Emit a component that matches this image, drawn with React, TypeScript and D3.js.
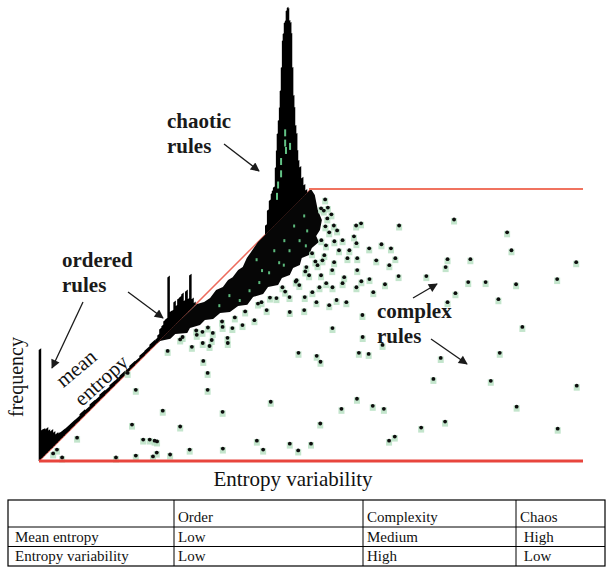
import React, { useEffect, useRef } from 'react';
import * as d3 from 'd3';

// histogram along the mean entropy axis (bin start, frequency)
const histMeanEntropy = [
  0.0, 0.007, 0.015, 0.022, 0.033, 0.04, 0.051, 0.059, 0.07, 0.077, 0.088, 0.095, 0.114, 0.132, 0.15,
  0.168, 0.187, 0.205, 0.223, 0.242, 0.26, 0.278, 0.297, 0.315, 0.333, 0.352, 0.37, 0.388, 0.407, 0.425,
  0.429, 0.436, 0.443, 0.451, 0.458, 0.465, 0.473, 0.48, 0.487, 0.495, 0.502, 0.509, 0.516, 0.524, 0.531,
  0.538, 0.546, 0.553, 0.56, 0.568, 0.575,
  0.832, 0.839, 0.846, 0.853, 0.857, 0.861, 0.868, 0.872, 0.875, 0.879, 0.883, 0.886, 0.89, 0.894, 0.897,
  0.901, 0.905, 0.908, 0.912, 0.916, 0.919, 0.923, 0.927, 0.93, 0.934, 0.938, 0.941, 0.945, 0.949, 0.952,
  0.956, 0.963, 0.971, 0.978, 0.985,
];
const histFrequency = [
  0.541, 0.137, 0.132, 0.122, 0.102, 0.088, 0.068, 0.049, 0.039, 0.034, 0.032, 0.029, 0.027, 0.024, 0.029,
  0.022, 0.027, 0.022, 0.027, 0.02, 0.024, 0.02, 0.022, 0.017, 0.022, 0.017, 0.022, 0.022, 0.027, 0.022,
  0.024, 0.034, 0.054, 0.059, 0.073, 0.073, 0.268, 0.088, 0.083, 0.117, 0.088, 0.112, 0.112, 0.117, 0.073,
  0.112, 0.063, 0.171, 0.044, 0.015, 0,
  0.044, 0.107, 0.146, 0.171, 0.18, 0.19, 0.278, 0.356, 0.434, 0.493, 0.551, 0.629, 0.737, 0.863, 0.893,
  0.941, 0.946, 0.99, 1.0, 0.99, 0.927, 0.912, 0.854, 0.683, 0.541, 0.478, 0.385, 0.341, 0.254, 0.2,
  0.161, 0.098, 0.054, 0.02, 0,
];

// outline of the dense cloud of chaotic / ordered rules: [entropy variability, mean entropy]
const denseCloud = [
  [0, 0.827], [0, 0.915], [0, 1.0], [0.018, 0.978], [0.051, 0.923], [0.077, 0.886], [0.092, 0.849],
  [0.096, 0.827], [0.112, 0.805], [0.11, 0.783], [0.118, 0.757], [0.11, 0.746], [0.119, 0.721],
  [0.112, 0.71], [0.119, 0.684], [0.11, 0.673], [0.116, 0.647], [0.101, 0.64], [0.105, 0.614],
  [0.092, 0.603], [0.096, 0.574], [0.081, 0.57], [0.077, 0.548], [0.061, 0.544], [0.059, 0.522],
  [0.046, 0.518], [0.046, 0.5], [0.033, 0.489], [0.037, 0.471], [0.017, 0.467], [0.017, 0.449],
  [0.002, 0.441], [0, 0.426], [0, 0.496], [0.002, 0.577], [0.011, 0.585], [0.015, 0.599],
  [0.011, 0.629], [0.018, 0.64], [0.015, 0.665], [0.018, 0.676], [0.015, 0.702], [0.018, 0.713],
  [0.009, 0.746], [0.006, 0.765], [0, 0.805],
];
const cloudSpeckles = [
  [0.037, 0.864], [0.037, 0.901], [0.074, 0.81], [0.074, 0.773], [0.077, 0.729], [0.077, 0.692],
  [0.077, 0.656], [0.074, 0.626], [0.074, 0.59], [0.046, 0.81], [0.07, 0.846], [0.046, 0.773],
  [0.095, 0.791], [0.046, 0.571], [0.046, 0.608], [0.06, 0.7], [0.03, 0.74], [0.09, 0.72],
];
// green marks inside the chaotic peak: [mean entropy, frequency]
const peakMarks = [
  [0.905, 0.4], [0.905, 0.35], [0.908, 0.31], [0.923, 0.31], [0.89, 0.28], [0.89, 0.22], [0.879, 0.18],
  [0.875, 0.13],
];

// individual rules: [entropy variability, mean entropy]
const nearChaosRules = [
  [0.232, 0.795], [0.257, 0.78], [0.217, 0.78], [0.156, 0.872], [0.151, 0.864], [0.167, 0.824],
  [0.153, 0.81], [0.165, 0.773], [0.195, 0.744], [0.213, 0.744], [0.252, 0.736], [0.283, 0.744],
  [0.322, 0.678], [0.312, 0.648], [0.274, 0.667], [0.235, 0.7], [0.224, 0.674], [0.189, 0.7],
  [0.202, 0.652], [0.221, 0.637], [0.197, 0.637], [0.193, 0.619], [0.188, 0.601], [0.16, 0.601],
  [0.129, 0.637], [0.138, 0.597], [0.305, 0.619], [0.263, 0.659], [0.232, 0.652], [0.219, 0.582],
  [0.211, 0.553], [0.188, 0.546], [0.327, 0.535], [0.296, 0.487], [0.248, 0.571], [0.142, 0.553],
  [0.138, 0.516], [0.125, 0.498], [0.112, 0.487], [0.092, 0.491], [0.085, 0.469], [0.064, 0.473],
  [0.059, 0.462], [0.121, 0.451], [0.096, 0.443], [0.085, 0.432], [0.368, 0.454], [0.153, 0.736],
  [0.132, 0.791], [0.121, 0.762], [0.136, 0.711], [0.142, 0.663], [0.118, 0.582], [0.274, 0.582],
  [0.252, 0.59], [0.265, 0.637], [0.285, 0.718], [0.184, 0.773], [0.184, 0.799], [0.14, 0.806],
  [0.064, 0.919], [0.085, 0.89], [0.11, 0.864], [0.114, 0.81], [0.114, 0.839], [0.147, 0.755],
  [0.178, 0.729], [0.153, 0.718], [0.156, 0.681], [0.156, 0.645], [0.178, 0.681], [0.055, 0.927],
  [0.096, 0.861], [0.085, 0.905], [0.125, 0.846], [0.142, 0.732], [0.142, 0.695], [0.143, 0.658],
  [0.142, 0.621], [0.125, 0.599], [0.114, 0.577], [0.105, 0.548], [0.097, 0.526], [0.081, 0.511],
  [0.066, 0.489], [0.05, 0.478], [0.037, 0.445], [0.046, 0.96], [0.066, 0.93],
];
const complexRules = [
  [0.32, 0.886], [0.441, 0.839], [0.482, 0.773], [0.381, 0.74], [0.392, 0.711], [0.423, 0.74],
  [0.623, 0.729], [0.373, 0.678], [0.461, 0.656], [0.493, 0.656], [0.553, 0.648], [0.619, 0.667],
  [0.458, 0.615], [0.46, 0.582], [0.548, 0.593], [0.643, 0.491], [0.23, 0.864], [0.649, 0.396],
  [0.55, 0.377], [0.575, 0.3], [0.684, 0.293], [0.851, 0.275], [0.779, 0.198], [0.675, 0.143],
  [0.642, 0.121], [0.895, 0.117],
];
const lowEntropyRules = [
  [0.035, 0.403], [0.119, 0.366], [0.149, 0.322], [0.18, 0.26], [0.136, 0.183], [0.248, 0.179],
  [0.197, 0.125], [0.176, 0.073], [0.202, 0.029], [0.202, 0.015], [0.23, 0.022], [0.257, 0.04],
  [0.316, 0.044], [0.364, 0.073], [0.392, 0.04], [0.43, 0.062], [0.458, 0.037], [0.469, 0.062],
  [0.318, 0.216], [0.279, 0.396], [0.318, 0.385], [0.336, 0.363], [0.449, 0.136], [0.461, 0.19],
  [0.471, 0.227], [0.513, 0.201], [0.539, 0.19], [0.39, 0.396], [0.41, 0.392], [0.607, 0.073],
  [0.61, 0.088], [0.419, 0.425], [0.048, 0.26], [0.105, 0.132], [0.028, 0.084], [0.013, 0.04],
  [0.013, 0.026], [0.037, 0.011], [0.136, 0.011], [0.169, 0.018], [0.153, 0.077], [0.165, 0.077],
  [0.182, 0.07], [0.002, 0.322], [0.037, 0.454], [0.072, 0.418], [0.103, 0.421], [0.131, 0.432],
];

const tableHeader = ['', 'Order', 'Complexity', 'Chaos'];
const tableRows = [
  ['Mean entropy', 'Low', 'Medium', ' High'],
  ['Entropy variability', 'Low', 'High', ' Low'],
];

const SERIF = "'Liberation Serif', 'Times New Roman', serif";

const App: React.FC = () => {
  const svgRef = useRef<SVGSVGElement>(null);

  useEffect(() => {
    if (!svgRef.current) return;
    const svg = d3.select(svgRef.current);
    svg.selectAll('*').remove();

    // projection: variability runs right, mean entropy runs diagonally up, frequency up
    const vScale = d3.scaleLinear().domain([0, 1]).range([39, 583]);
    const mScale = d3.scaleLinear().domain([0, 1]).range([0, 272]);
    const fScale = d3.scaleLinear().domain([0, 1]).range([0, 205]);
    const baseY = 461;
    const px = (v: number, m: number) => vScale(v) + mScale(m);
    const py = (m: number, f = 0) => baseY - mScale(m) - fScale(f);

    svg
      .append('defs')
      .append('marker')
      .attr('id', 'arrow')
      .attr('viewBox', '0 0 10 10')
      .attr('refX', 9)
      .attr('refY', 5)
      .attr('markerUnits', 'userSpaceOnUse')
      .attr('markerWidth', 12)
      .attr('markerHeight', 9)
      .attr('orient', 'auto')
      .append('path')
      .attr('d', 'M0,0 L10,5 L0,10 Z')
      .attr('fill', '#1a1a1a');

    const g = svg.append('g');

    // mean entropy axis (diagonal red line)
    g.append('line')
      .attr('x1', px(0, 0))
      .attr('y1', py(0))
      .attr('x2', px(0, 1))
      .attr('y2', py(1))
      .attr('stroke', '#ee6b5d')
      .attr('stroke-width', 1.5);

    // dense cloud
    const cloudLine = d3
      .line<number[]>()
      .x((d) => px(d[0], d[1]))
      .y((d) => py(d[1]))
      .curve(d3.curveLinearClosed);
    g.append('path').attr('d', cloudLine(denseCloud)).attr('fill', '#060606');

    // histogram bars standing on the mean entropy axis, one path so there are no seams
    const bins = histMeanEntropy
      .slice(0, -1)
      .map((m0, i) => ({ m0, m1: histMeanEntropy[i + 1], f: histFrequency[i] }))
      .filter((b) => b.f > 0);
    const barPath = bins
      .map(
        (b) =>
          `M${px(0, b.m0) - 0.3},${py(b.m0)}L${px(0, b.m1) + 0.3},${py(b.m1)}L${px(0, b.m1) + 0.3},${py(
            b.m1,
            b.f,
          )}L${px(0, b.m0) - 0.3},${py(b.m0, b.f)}Z`,
      )
      .join('');
    g.append('path').attr('d', barPath).attr('fill', '#000');

    g.selectAll('rect.speckle')
      .data(cloudSpeckles)
      .enter()
      .append('rect')
      .attr('class', 'speckle')
      .attr('x', (d) => px(d[0], d[1]) - 1)
      .attr('y', (d) => py(d[1]) - 1.5)
      .attr('width', 2)
      .attr('height', 3)
      .attr('fill', '#5cb97c');

    g.selectAll('rect.peakmark')
      .data(peakMarks)
      .enter()
      .append('rect')
      .attr('class', 'peakmark')
      .attr('x', (d) => px(0, d[0]) - 1)
      .attr('y', (d) => py(d[0], d[1]) - 3.5)
      .attr('width', 2)
      .attr('height', 7)
      .attr('fill', '#62c285');

    // individual rules
    const rules = [...nearChaosRules, ...complexRules, ...lowEntropyRules];
    g.selectAll('rect.halo')
      .data(rules)
      .enter()
      .append('rect')
      .attr('class', 'halo')
      .attr('x', (d) => px(d[0], d[1]) - 3)
      .attr('y', (d) => py(d[1]) - 2)
      .attr('width', 6)
      .attr('height', 6.5)
      .attr('fill', '#b4dfbf')
      .attr('opacity', 0.8);
    g.selectAll('circle.rule')
      .data(rules)
      .enter()
      .append('circle')
      .attr('class', 'rule')
      .attr('cx', (d) => px(d[0], d[1]))
      .attr('cy', (d) => py(d[1]) - 0.5)
      .attr('r', 1.9)
      .attr('fill', '#0d0d0d');

    // top and bottom boundary lines
    g.append('line')
      .attr('x1', px(0, 1) - 2)
      .attr('y1', py(1))
      .attr('x2', vScale(1))
      .attr('y2', py(1))
      .attr('stroke', '#f0735f')
      .attr('stroke-width', 1.8);
    g.append('line')
      .attr('x1', vScale(0))
      .attr('y1', py(0))
      .attr('x2', vScale(1))
      .attr('y2', py(0))
      .attr('stroke', '#e8453d')
      .attr('stroke-width', 3);

    // axis labels
    const label = (text: string, x: number, y: number, angle: number, size: number) =>
      g
        .append('text')
        .attr('transform', `translate(${x},${y}) rotate(${angle})`)
        .attr('text-anchor', 'middle')
        .attr('dy', '0.35em')
        .attr('font-family', SERIF)
        .attr('font-size', size)
        .attr('fill', '#111')
        .text(text);
    label('Entropy variability', 293, 479, 0, 21);
    label('frequency', 16, 377, -90, 20);
    label('mean', 76, 368, -40, 21);
    label('entropy', 101, 380, -42, 21);

    // annotations
    const note = (lines: string[], x: number, y: number) =>
      lines.forEach((t, i) =>
        g
          .append('text')
          .attr('x', x)
          .attr('y', y + i * 25)
          .attr('font-family', SERIF)
          .attr('font-weight', 'bold')
          .attr('font-size', 21)
          .attr('fill', '#1a1a1a')
          .text(t),
      );
    note(['chaotic', 'rules'], 167, 128);
    note(['ordered', 'rules'], 62, 267);
    note(['complex', 'rules'], 377, 318);

    const arrows = [
      [224, 144, 259, 171],
      [128, 292, 163, 318],
      [83, 302, 52, 368],
      [413, 298, 437, 284],
      [431, 339, 467, 364],
    ];
    g.selectAll('line.arrow')
      .data(arrows)
      .enter()
      .append('line')
      .attr('class', 'arrow')
      .attr('x1', (d) => d[0])
      .attr('y1', (d) => d[1])
      .attr('x2', (d) => d[2])
      .attr('y2', (d) => d[3])
      .attr('stroke', '#1a1a1a')
      .attr('stroke-width', 1.3)
      .attr('marker-end', 'url(#arrow)');

    // summary table
    const colX = [8, 174, 363, 516, 605];
    const rowY = [500, 527, 546.5, 566];
    const t = svg.append('g');
    t.append('rect')
      .attr('x', colX[0])
      .attr('y', rowY[0])
      .attr('width', colX[4] - colX[0])
      .attr('height', rowY[3] - rowY[0])
      .attr('fill', 'none')
      .attr('stroke', '#000')
      .attr('stroke-width', 1.2);
    rowY.slice(1, -1).forEach((y) =>
      t.append('line').attr('x1', colX[0]).attr('x2', colX[4]).attr('y1', y).attr('y2', y).attr('stroke', '#000'),
    );
    colX.slice(1, -1).forEach((x) =>
      t.append('line').attr('x1', x).attr('x2', x).attr('y1', rowY[0]).attr('y2', rowY[3]).attr('stroke', '#000'),
    );
    [tableHeader, ...tableRows].forEach((row, r) =>
      row.forEach((txt, c) =>
        t
          .append('text')
          .attr('x', colX[c] + (c === 0 ? 7 : 4))
          .attr('y', rowY[r + 1] - 5)
          .attr('font-family', SERIF)
          .attr('font-size', 15)
          .attr('fill', '#111')
          .style('white-space', 'pre')
          .text(txt),
      ),
    );
  }, []);

  return (
    <div style={{ position: 'absolute', left: 0, top: 0 }}>
      <svg ref={svgRef} width={608} height={585} style={{ display: 'block', background: '#fff' }} />
    </div>
  );
};

export default App;
